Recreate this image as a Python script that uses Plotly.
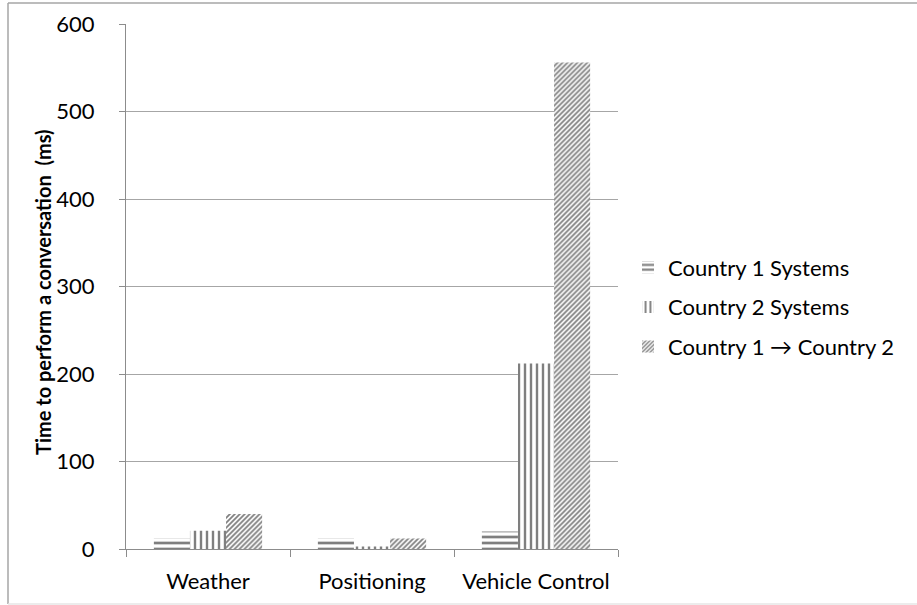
import plotly.graph_objects as go

categories = ["Weather", "Positioning", "Vehicle Control"]
series_names = ["Country 1 Systems", "Country 2 Systems", "Country 1 \u2192 Country 2"]
country1 = [12, 12, 20]
country2 = [21, 3, 212]
country1_to_2 = [40, 12, 556]
y_ticks = [0, 100, 200, 300, 400, 500, 600]
y_title = "<b>Time to perform a conversation  (ms)</b>"

W, H = 917, 605
L, R, T, B = 126, 299, 24, 56
FONT = "Lato, Open Sans, sans-serif"
FS = 22

patterns = [
    dict(shape="-", size=6, solidity=0.45),
    dict(shape="|", size=6, solidity=0.4),
    dict(shape="/", size=3.5, solidity=0.5),
]
values = [country1, country2, country1_to_2]

fig = go.Figure()
for i, (name, vals, pat) in enumerate(zip(series_names, values, patterns)):
    fig.add_trace(go.Bar(
        x=categories, y=vals, name=name, legendgroup=f"g{i}",
        marker=dict(color="white", line=dict(width=0),
                    pattern=dict(fgcolor="black", bgcolor="white", fillmode="overlay", **pat)),
    ))

pw = W - L - R
ph = H - T - B
px = lambda v: (v - L) / pw
py = lambda v: (549 - v) / ph

fig.update_layout(
    width=W, height=H,
    margin=dict(l=L, r=R, t=T, b=B, autoexpand=False),
    paper_bgcolor="white", plot_bgcolor="white",
    barmode="group", bargap=0.34, bargroupgap=0,
    font=dict(family=FONT, size=FS, color="black"),
    showlegend=True,
    legend=dict(x=px(628), y=py(307), xanchor="left", yanchor="middle",
                traceorder="grouped", tracegroupgap=8,
                font=dict(family=FONT, size=FS, color="black"),
                bgcolor="rgba(0,0,0,0)", itemwidth=30),
    xaxis=dict(showline=True, linecolor="#8c8c8c", linewidth=1,
               ticks="outside", tickson="boundaries", ticklen=7, tickcolor="#8c8c8c",
               tickangle=0, automargin=False,
               tickfont=dict(family=FONT, size=FS), showgrid=False, ticklabelstandoff=13),
    yaxis=dict(range=[0, 600], tickvals=y_ticks, ticktext=[str(v) for v in y_ticks],
               showline=True, linecolor="#8c8c8c", linewidth=1,
               ticks="outside", ticklen=6, tickcolor="#8c8c8c", automargin=False,
               showgrid=True, gridcolor="#a6a6a6", gridwidth=1, zeroline=False,
               tickfont=dict(family=FONT, size=FS), ticklabelstandoff=20),
)

fig.add_annotation(text=y_title, textangle=-90, xref="paper", yref="paper",
                   x=px(43), y=py(293), xanchor="center", yanchor="middle",
                   showarrow=False, font=dict(family=FONT, size=20, color="black"))

# outer chart border (top, left, bottom)
border = dict(color="#a6a6a6", width=1.5)
fig.add_shape(type="line", xref="paper", yref="paper", x0=px(8), x1=px(917), y0=py(3), y1=py(3), line=border, layer="below")
fig.add_shape(type="line", xref="paper", yref="paper", x0=px(8), x1=px(8), y0=py(3), y1=py(604), line=border, layer="below")
fig.add_shape(type="line", xref="paper", yref="paper", x0=px(8), x1=px(917), y0=py(604), y1=py(604),
              line=dict(color="#e6e6e6", width=1.5), layer="below")

fig.write_html("out.html", config={"displayModeBar": False},
               post_script="document.body.style.margin='0';document.body.style.overflow='hidden';")
